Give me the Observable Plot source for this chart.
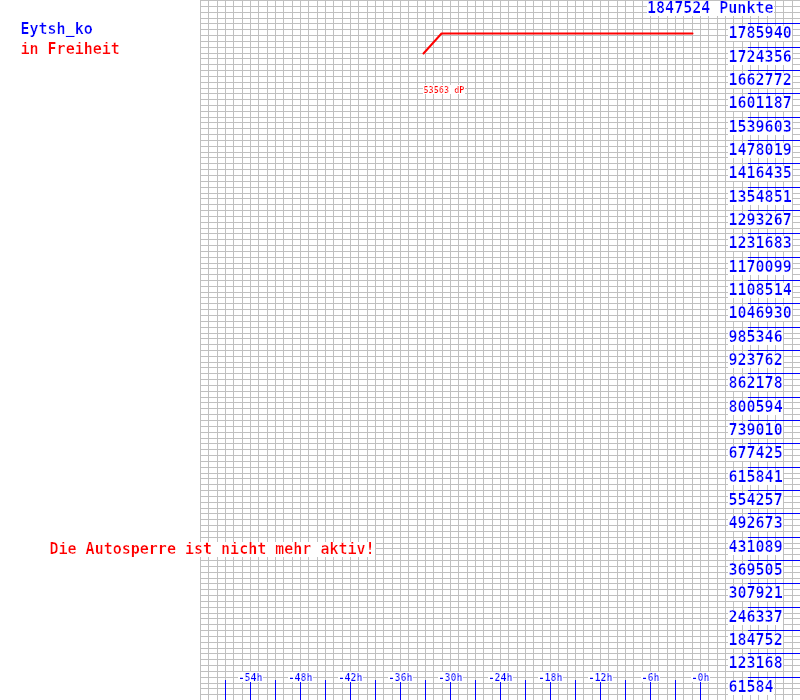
<!DOCTYPE html>
<html><head><meta charset="utf-8">
<script src="https://cdn.jsdelivr.net/npm/d3@7"></script>
<script src="https://cdn.jsdelivr.net/npm/@observablehq/plot@0.6"></script>
<style>body{margin:0;background:#fff} #chart{position:absolute;left:0;top:0}</style>
</head><body><div id="chart"></div>
<script>
const playerName = "Eytsh_ko";
const statusText = "in Freiheit";
const totalPoints = 1847524;
const totalLabel = "1847524 Punkte";
const lockText = "Die Autosperre ist nicht mehr aktiv!";
const deltaLabel = "53563 dP";
// series: hours relative to now, points
const hours = [-33.2, -31.1, -1.0];
const points = [1707300, 1760860, 1760860];
const yTickValues = [61584, 123168, 184752, 246337, 307921, 369505, 431089, 492673, 554257, 615841, 677425, 739010, 800594, 862178, 923762, 985346, 1046930, 1108514, 1170099, 1231683, 1293267, 1354851, 1416435, 1478019, 1539603, 1601187, 1662772, 1724356, 1785940];
const xLabelHours = [-54, -48, -42, -36, -30, -24, -18, -12, -6, 0];
const xTickHours = [-57, -54, -51, -48, -45, -42, -39, -36, -33, -30, -27, -24, -21, -18, -15, -12, -9, -6, -3, 0];

const mono = "'DejaVu Sans Mono', monospace";
const blue = "#0000ff", red = "#ff0000", gray = "#c0c0c0";
const series = hours.map((h, i) => ({h, p: points[i]}));
const valPerPx = totalPoints / 700;
const big = 15;

const chart = Plot.plot({
  width: 800, height: 700,
  marginLeft: 200, marginRight: 0, marginTop: 0, marginBottom: 0,
  x: {domain: [-60, 12], axis: null, round: true},
  y: {domain: [0, totalPoints], axis: null, round: true},
  style: {background: "white", fontFamily: mono, overflow: "visible"},
  marks: [
    Plot.ruleX(d3.range(-60, 13, 1), {stroke: gray, shapeRendering: "crispEdges"}),
    Plot.ruleY(d3.range(0, 121).map(i => i * totalPoints / 120), {stroke: gray, shapeRendering: "crispEdges"}),
    Plot.ruleY(yTickValues, {x1: 5.76, x2: 12, stroke: blue, shapeRendering: "crispEdges"}),
    Plot.ruleX(xTickHours, {y1: 0, y2: 20 * valPerPx, stroke: blue, shapeRendering: "crispEdges"}),
    Plot.line(series, {x: "h", y: "p", stroke: red, strokeWidth: 2}),
    Plot.text([series[0]], {x: "h", y: "p", text: () => deltaLabel, dy: 33, textAnchor: "start", lineAnchor: "top", fill: red, fontSize: 8.5, fontWeight: "bold"}),
    Plot.text(yTickValues, {y: d => d, text: d => String(d), frameAnchor: "right", dx: -72, dy: 4, textAnchor: "start", lineAnchor: "top", fill: blue, fontSize: big, fontWeight: "bold"}),
    Plot.text(xLabelHours, {x: d => d, text: d => (d === 0 ? "-0" : String(d)) + "h", frameAnchor: "bottom", dy: -27, lineAnchor: "top", fill: blue, fontSize: 10, fontWeight: "bold"}),
    Plot.text([totalLabel], {text: d => d, frameAnchor: "top-right", dx: -27, dy: 2, textAnchor: "end", lineAnchor: "top", fill: blue, fontSize: big, fontWeight: "bold"}),
    Plot.text([playerName], {text: d => d, frameAnchor: "top-left", dx: -180, dy: 23, textAnchor: "start", lineAnchor: "top", fill: blue, fontSize: big, fontWeight: "bold"}),
    Plot.text([statusText], {text: d => d, frameAnchor: "top-left", dx: -180, dy: 43, textAnchor: "start", lineAnchor: "top", fill: red, fontSize: big, fontWeight: "bold"}),
    Plot.text([lockText], {text: d => d, frameAnchor: "top-left", dx: -151, dy: 543, textAnchor: "start", lineAnchor: "top", fill: red, fontSize: big, fontWeight: "bold"})
  ]
});

const ns = "http://www.w3.org/2000/svg";
const defs = document.createElementNS(ns, "defs");
defs.innerHTML = '<filter id="whitebg" x="0" y="0.12" width="1" height="0.8"><feFlood flood-color="white"/><feComposite in="SourceGraphic" operator="over"/></filter>';
chart.insertBefore(defs, chart.firstChild);
chart.querySelectorAll("text").forEach(t => t.setAttribute("filter", "url(#whitebg)"));
document.getElementById("chart").appendChild(chart);
</script>
</body></html>
